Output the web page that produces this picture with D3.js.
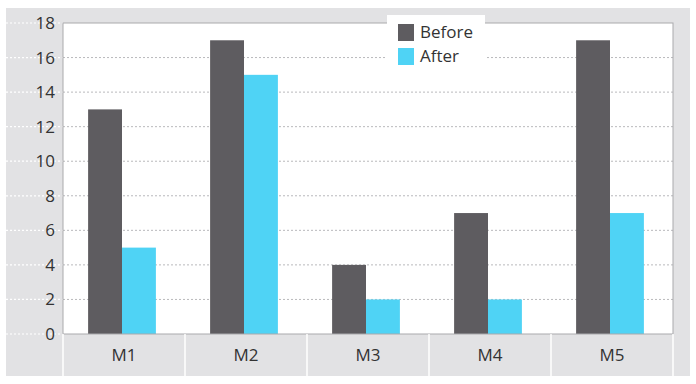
<!DOCTYPE html>
<html>
<head>
<meta charset="utf-8">
<script src="https://cdn.jsdelivr.net/npm/d3@7"></script>
<style>
  body { margin: 0; background: #fff; }
  svg text { font-family: "Open Sans", "Noto Sans", sans-serif; fill: #333; }
</style>
</head>
<body>
<div id="chart"></div>
<script>
const categories = ['M1', 'M2', 'M3', 'M4', 'M5'];
const seriesNames = ['Before', 'After'];
const before = [13, 17, 4, 7, 17];
const after = [5, 15, 2, 2, 7];
const yTicks = [0, 2, 4, 6, 8, 10, 12, 14, 16, 18];
const colors = ['#5e5c60', '#4fd3f5'];

const W = 696;
const H = 384;
const plot = { left: 63, top: 23, right: 673, bottom: 334 };

const svg = d3.select('#chart')
  .append('svg')
    .attr('width', W)
    .attr('height', H);

// gray frame
svg.append('rect')
  .attr('x', 6)
  .attr('y', 8)
  .attr('width', 684)
  .attr('height', 368)
  .attr('fill', '#e2e2e4');

const x = d3.scaleBand()
  .domain(categories)
  .range([plot.left, plot.right]);

const xInner = d3.scaleBand()
  .domain(seriesNames)
  .range([0, x.bandwidth()])
  .paddingOuter(0.8)
  .paddingInner(0);

const y = d3.scaleLinear()
  .domain([0, 18])
  .range([plot.bottom, plot.top]);

// white dotted guides across left gray margin
svg.append('g')
  .selectAll('line')
  .data(yTicks)
  .join('line')
    .attr('x1', 6)
    .attr('x2', plot.left)
    .attr('y1', (d) => y(d))
    .attr('y2', (d) => y(d))
    .attr('stroke', '#fff')
    .attr('stroke-width', 1.2)
    .attr('stroke-dasharray', '2,2');

// plot area
svg.append('rect')
  .attr('x', plot.left)
  .attr('y', plot.top)
  .attr('width', plot.right - plot.left)
  .attr('height', plot.bottom - plot.top)
  .attr('fill', '#fff');

// gridlines
svg.append('g')
  .selectAll('line')
  .data(yTicks.slice(1, -1))
  .join('line')
    .attr('x1', plot.left)
    .attr('x2', plot.right)
    .attr('y1', (d) => y(d))
    .attr('y2', (d) => y(d))
    .attr('stroke', '#b9b9bc')
    .attr('stroke-width', 1)
    .attr('stroke-dasharray', '2,2');

// bars
const rows = categories.map((c, i) => ({ cat: c, values: [before[i], after[i]] }));

svg.append('g')
  .selectAll('g')
  .data(rows)
  .join('g')
    .attr('transform', (d) => `translate(${x(d.cat) - 2},0)`)
  .selectAll('rect')
  .data((d) => d.values.map((v, j) => ({ key: seriesNames[j], value: v, j })))
  .join('rect')
    .attr('x', (d) => xInner(d.key))
    .attr('y', (d) => y(d.value))
    .attr('width', xInner.bandwidth())
    .attr('height', (d) => y(0) - y(d.value))
    .attr('fill', (d) => colors[d.j]);

// plot border
svg.append('rect')
  .attr('x', plot.left)
  .attr('y', plot.top)
  .attr('width', plot.right - plot.left)
  .attr('height', plot.bottom - plot.top)
  .attr('fill', 'none')
  .attr('stroke', '#a9a9ac')
  .attr('stroke-width', 1);

// y labels
svg.append('g')
  .selectAll('text')
  .data(yTicks)
  .join('text')
    .attr('x', 55)
    .attr('y', (d) => y(d) + 6)
    .attr('text-anchor', 'end')
    .attr('font-size', 17)
    .text((d) => d);

// category separators
svg.append('g')
  .selectAll('line')
  .data(categories.concat(['end']))
  .join('line')
    .attr('x1', (d, i) => plot.left + i * x.bandwidth())
    .attr('x2', (d, i) => plot.left + i * x.bandwidth())
    .attr('y1', plot.bottom)
    .attr('y2', 376)
    .attr('stroke', '#fff')
    .attr('stroke-width', 1.5);

// category labels
svg.append('g')
  .selectAll('text')
  .data(categories)
  .join('text')
    .attr('x', (d) => x(d) + x.bandwidth() / 2)
    .attr('y', 361)
    .attr('text-anchor', 'middle')
    .attr('font-size', 17)
    .text((d) => d);

// legend
const legend = svg.append('g')
  .attr('transform', 'translate(387,15)');

legend.append('rect')
  .attr('width', 98)
  .attr('height', 57)
  .attr('fill', '#fff');

const item = legend.selectAll('g')
  .data(seriesNames)
  .join('g')
    .attr('transform', (d, i) => `translate(11,${9 + i * 24})`);

item.append('rect')
  .attr('width', 16)
  .attr('height', 17)
  .attr('fill', (d, i) => colors[i]);

item.append('text')
  .attr('x', 22)
  .attr('y', 14)
  .attr('font-size', 17)
  .text((d) => d);
</script>
</body>
</html>
